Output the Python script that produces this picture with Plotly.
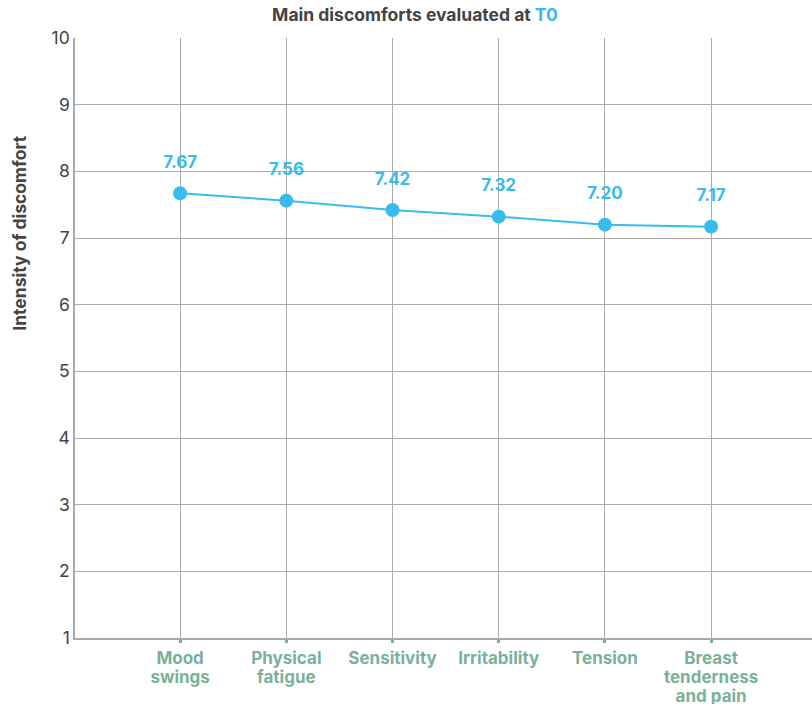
import plotly.graph_objects as go

categories = ["Mood swings", "Physical fatigue", "Sensitivity", "Irritability", "Tension", "Breast tenderness and pain"]
tick_text = ["Mood<br>swings", "Physical<br>fatigue", "Sensitivity", "Irritability", "Tension", "Breast<br>tenderness<br>and pain"]
values = [7.67, 7.56, 7.42, 7.32, 7.20, 7.17]
labels = ["7.67", "7.56", "7.42", "7.32", "7.20", "7.17"]
y_ticks = [1, 2, 3, 4, 5, 6, 7, 8, 9, 10]

blue = "#38bbed"
green = "#7bb09a"
grid = "#aaaaaa"
dark = "#444444"


def tick_label(t):
    lines = t.split("<br>")
    return "<br>".join("<span style='font-size:17px'><b>%s</b></span>" % ln for ln in lines)


fig = go.Figure()
fig.add_trace(go.Scatter(
    x=categories, y=values, mode="lines+markers",
    line=dict(color=blue, width=2),
    marker=dict(color=blue, size=14),
    cliponaxis=False, hoverinfo="skip",
))
# value labels (invisible larger marker to lift text a bit higher)
fig.add_trace(go.Scatter(
    x=categories, y=values, mode="markers+text",
    text=["<b>%s</b>" % t for t in labels], textposition="top center",
    textfont=dict(color=blue, size=17, family="Inter"),
    marker=dict(color="rgba(0,0,0,0)", size=32),
    cliponaxis=False, hoverinfo="skip",
))

fig.add_annotation(
    text="<b>Intensity of discomfort</b>", textangle=-90,
    xref="paper", yref="paper", x=-0.075, y=0.675,
    xanchor="center", yanchor="middle", showarrow=False,
    font=dict(size=17.5, color=dark, family="Inter"),
)

fig.update_layout(
    width=812, height=704,
    margin=dict(l=75, r=0, t=38, b=66, autoexpand=False),
    plot_bgcolor="white", paper_bgcolor="white",
    showlegend=False,
    font=dict(family="Inter", color=dark),
    title=dict(
        text="<b>Main discomforts evaluated at <span style='color:%s'>T0</span></b>" % blue,
        x=0.511, xanchor="center", y=0.979, yanchor="middle",
        font=dict(size=17.5, color=dark, family="Inter"),
    ),
    xaxis=dict(
        type="category", range=[-0.99, 5.95], automargin=False,
        tickvals=categories, ticktext=[tick_label(t) for t in tick_text],
        showgrid=True, gridcolor=grid, gridwidth=1,
        showline=True, linecolor=grid, linewidth=1.5,
        ticks="outside", ticklen=3, tickwidth=3, tickcolor=green,
        tickfont=dict(size=14.6, color=green, family="Inter"),
        ticklabelstandoff=4,
        zeroline=False,
    ),
    yaxis=dict(
        range=[1, 10], tickvals=y_ticks, automargin=False,
        showgrid=True, gridcolor=grid, gridwidth=1,
        showline=True, linecolor=grid, linewidth=1.5,
        tickfont=dict(size=17.5, color=dark, family="Inter"),
        ticks="", zeroline=False,
    ),
)

fig.write_html("out.html", config={"displayModeBar": False},
               post_script="document.body.style.margin='0';document.body.style.padding='0';")
